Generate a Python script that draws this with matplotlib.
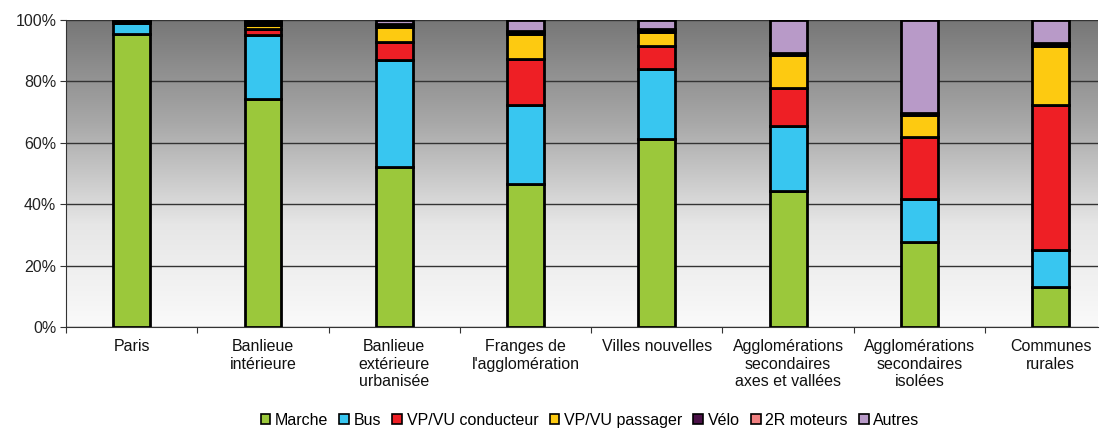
import matplotlib
matplotlib.use("Agg")

import matplotlib.pyplot as plt
from matplotlib.patches import Patch
import numpy as np

plt.rcParams['font.family'] = ['Liberation Sans', 'DejaVu Sans']

# ===============================
# Data (parts modales, %)
# ===============================
categories = ["Paris", "Banlieue\nintérieure", "Banlieue\nextérieure\nurbanisée",
              "Franges de\nl'agglomération", "Villes nouvelles",
              "Agglomérations\nsecondaires\naxes et vallées",
              "Agglomérations\nsecondaires\nisolées", "Communes\nrurales"]

modes = ["Marche", "Bus", "VP/VU conducteur", "VP/VU passager", "Vélo", "2R moteurs", "Autres"]

marche     = [95.5, 74.3, 52.0, 46.5, 61.3, 44.4, 27.8, 12.9]
bus        = [3.5, 20.9, 35.0, 25.9, 22.8, 21.2, 13.8, 12.2]
vp_cond    = [0.3, 1.8, 5.8, 15.0, 7.4, 12.1, 20.2, 47.1]
vp_pass    = [0.3, 1.5, 4.8, 8.2, 4.5, 10.8, 7.3, 19.4]
velo       = [0.1, 0.4, 0.8, 0.6, 0.8, 0.6, 0.3, 0.4]
deux_roues = [0.1, 0.3, 0.4, 0.3, 0.3, 0.3, 0.3, 0.4]
autres     = [0.2, 0.8, 1.2, 3.5, 2.9, 10.6, 30.3, 7.6]

series = [marche, bus, vp_cond, vp_pass, velo, deux_roues, autres]
colors = ["#9BC83B", "#38C6F0", "#EE1F25", "#FDCA11", "#4B1248", "#F08080", "#B89AC8"]

# ===============================
# Figure
# ===============================
fig = plt.figure(figsize=(11.03, 4.32), dpi=100)
ax = fig.add_axes([66 / 1103, 1 - 327 / 432, (1098 - 66) / 1103, (327 - 20) / 432])

# gradient background (dark top -> white bottom)
grad = np.linspace(0, 1, 256).reshape(-1, 1)
cmap = matplotlib.colors.LinearSegmentedColormap.from_list("bg", ["#FAFAFA", "#E6E6E6", "#A8A8A8", "#777777"])
ax.imshow(grad, cmap=cmap, aspect="auto", extent=[0, 1, 0, 1], origin="lower",
          transform=ax.transAxes, zorder=0)

x = np.arange(len(categories))
bottom = np.zeros(len(categories))
for vals, col in zip(series, colors):
    ax.bar(x, vals, width=0.28, bottom=bottom, color=col, edgecolor="black",
           linewidth=2.0, zorder=3)
    bottom += np.array(vals)

ax.set_xlim(-0.5, 7.36)
ax.set_ylim(0, 100)
ax.set_yticks(range(0, 101, 20))
ax.set_yticklabels([f"{v}%" for v in range(0, 101, 20)], fontsize=11.5, color="#222222")
ax.yaxis.grid(True, color="#333333", linewidth=1.0, zorder=1)
ax.set_axisbelow(True)

ax.set_xticks(np.arange(-0.5, 7.5, 1.0))
ax.set_xticklabels([])
ax.tick_params(axis="x", direction="out", length=4, color="#333333")
ax.tick_params(axis="y", direction="out", length=4, color="#333333", pad=3)
for i, lab in enumerate(categories):
    ax.text(i, -4, lab, ha="center", va="top", fontsize=11.5, color="#111111",
            linespacing=1.2)

for s in ["top", "right"]:
    ax.spines[s].set_visible(False)
ax.spines["left"].set_color("#333333")
ax.spines["bottom"].set_color("#333333")

handles = [Patch(facecolor=c, edgecolor="black", linewidth=1.2, label=m)
           for c, m in zip(colors, modes)]
fig.legend(handles=handles, loc="center", bbox_to_anchor=(0.535, 0.027), ncol=7,
           frameon=False, fontsize=11.5, handlelength=0.6, handleheight=0.6,
           handletextpad=0.3, columnspacing=0.7)

fig.savefig("out.png", dpi=100)
